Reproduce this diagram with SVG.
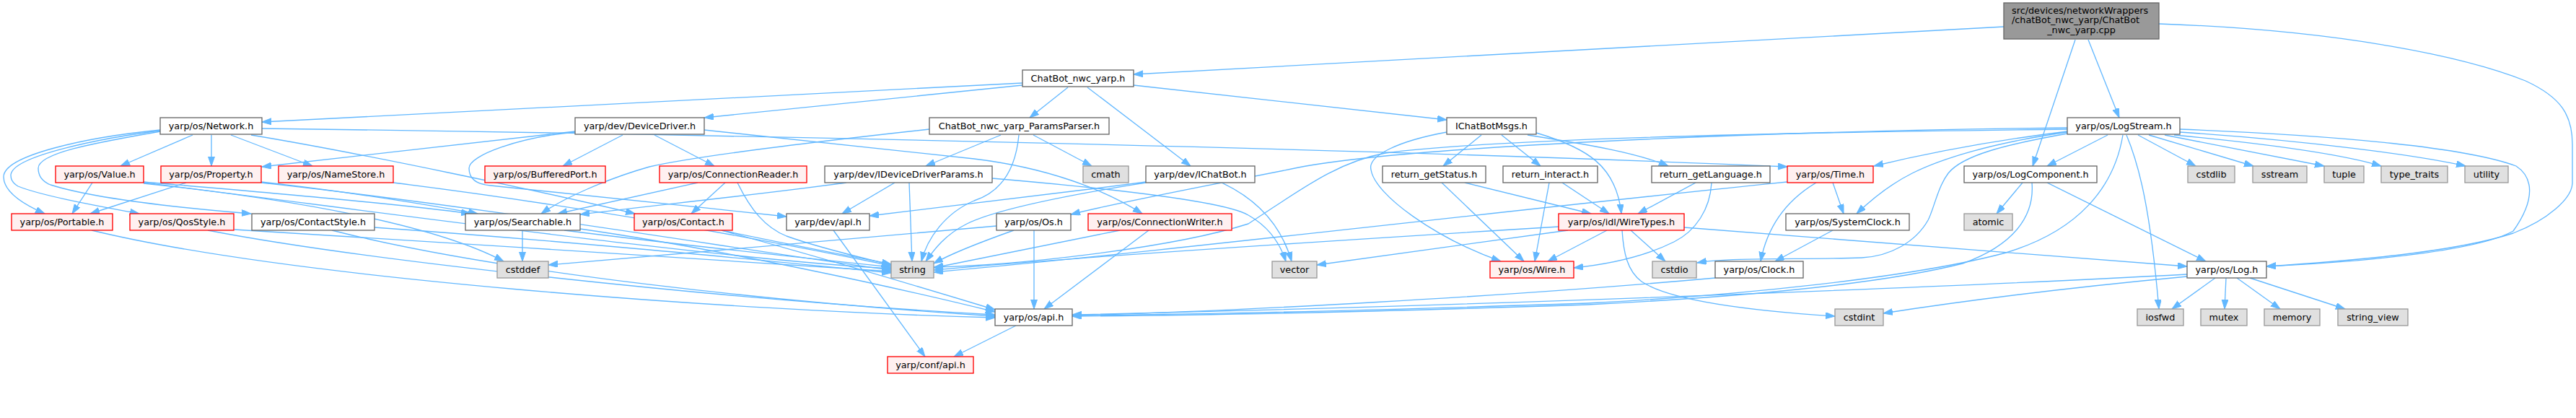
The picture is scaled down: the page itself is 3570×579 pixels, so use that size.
<svg xmlns="http://www.w3.org/2000/svg" width="3570" height="579" viewBox="0 0 3570 579">
<style>
rect{stroke-width:1.33}
.w{fill:#fff;stroke:#666}
.g{fill:#e0e0e0;stroke:#999}
.r{fill:#fff0f0;stroke:#f00}
.k{fill:#999;stroke:#666}
text{font-family:"DejaVu Sans","Liberation Sans",sans-serif;font-size:12.8px;text-anchor:middle;fill:#000}
#edges path{fill:none;stroke:#63b8ff;stroke-width:1.33;marker-end:url(#a)}
</style>
<defs><marker id="a" markerUnits="userSpaceOnUse" markerWidth="14" markerHeight="10" refX="13" refY="4.5" orient="auto"><path d="M0,0L13,4.5L0,9z" fill="#63b8ff" stroke="#63b8ff" stroke-width="1"/></marker></defs>
<rect width="3570" height="579" fill="#fff" stroke="none"/>
<g id="edges">
<path d="M2777,37L1571,103"/>
<path d="M2876,55L2817,230"/>
<path d="M2894,55L2937,163"/>
<path d="M2992,33C3250,42 3420,80 3500,112C3550,135 3565,160 3565,200L3565,253C3565,275 3530,305 3483,323C3400,350 3250,362 3141,369"/>
<path d="M1417,115L363,169"/>
<path d="M1417,118L976,163"/>
<path d="M1480,121L1427,163"/>
<path d="M1507,121L1650,230"/>
<path d="M1571,118L2005,166"/>
<path d="M267,187L167,230"/>
<path d="M293,187L293,230"/>
<path d="M320,187L433,230"/>
<path d="M363,178C1000,186 1900,206 2477,231"/>
<path d="M348,187C500,212 750,265 880,296"/>
<path d="M222,180C120,190 5,215 5,245C5,265 30,282 62,296"/>
<path d="M222,181C150,190 15,215 15,243C15,250 18,254 25,258C60,272 140,286 193,296"/>
<path d="M222,182C150,195 53,210 53,233C53,245 60,252 70,256C130,275 250,288 348,296"/>
<path d="M797,182L363,231"/>
<path d="M863,187L780,230"/>
<path d="M907,187L990,230"/>
<path d="M797,183C720,190 650,215 650,233C650,248 660,255 680,257C800,269 950,285 1090,300"/>
<path d="M976,180L1350,220C1450,232 1530,262 1583,296"/>
<path d="M1387,187L1283,230"/>
<path d="M1432,187L1513,230"/>
<path d="M1288,179C1050,205 940,222 900,231C840,248 780,275 750,296"/>
<path d="M1412,187C1408,230 1390,265 1350,278C1310,295 1285,330 1277,362"/>
<path d="M1173,253C1050,270 900,285 804,297"/>
<path d="M1240,253L1167,296"/>
<path d="M1260,253L1264,362"/>
<path d="M1375,247C1550,262 1700,280 1730,298C1760,315 1775,340 1782,362"/>
<path d="M1588,252C1450,270 1300,288 1205,299"/>
<path d="M1588,253C1450,275 1370,295 1340,310C1310,325 1295,345 1283,362"/>
<path d="M1693,253C1740,275 1775,310 1790,362"/>
<path d="M967,253L773,296"/>
<path d="M1005,253L958,296"/>
<path d="M1022,253C1040,290 1060,315 1090,327C1140,345 1200,358 1235,367"/>
<path d="M1552,319C1450,340 1350,360 1294,371"/>
<path d="M1592,319L1447,428"/>
<path d="M1433,319L1433,428"/>
<path d="M1405,319C1360,335 1320,350 1294,365"/>
<path d="M1381,313C1200,330 950,350 760,367"/>
<path d="M1000,319C1100,340 1180,355 1235,366"/>
<path d="M1000,319C1150,360 1300,405 1379,429"/>
<path d="M724,319L724,362"/>
<path d="M782,319C950,340 1120,358 1235,370"/>
<path d="M804,317C1000,345 1250,400 1379,432"/>
<path d="M128,253L100,296"/>
<path d="M199,252C350,265 550,282 652,296"/>
<path d="M199,253C500,290 1000,360 1235,372"/>
<path d="M199,254C400,275 600,310 698,362"/>
<path d="M258,253L125,296"/>
<path d="M362,252C480,265 600,285 662,296"/>
<path d="M362,253C700,290 1050,350 1235,374"/>
<path d="M545,253C800,285 1050,330 1235,368"/>
<path d="M325,318C600,335 1000,360 1235,376"/>
<path d="M288,319C500,360 1000,415 1379,436"/>
<path d="M519,315C800,335 1050,360 1235,378"/>
<path d="M460,319C700,380 1100,420 1379,438"/>
<path d="M127,319C400,385 1000,430 1379,440"/>
<path d="M2053,187L2000,230"/>
<path d="M2081,187L2135,230"/>
<path d="M2117,187C2200,200 2270,212 2312,230"/>
<path d="M2005,183C1940,195 1895,215 1900,235C1905,270 1990,330 2080,362"/>
<path d="M2129,184C2200,205 2240,230 2247,296"/>
<path d="M1998,253L2112,362"/>
<path d="M2030,253L2205,296"/>
<path d="M2147,253L2127,362"/>
<path d="M2165,253L2230,296"/>
<path d="M2350,253L2270,296"/>
<path d="M2372,253C2370,290 2350,320 2320,335C2280,355 2230,366 2181,371"/>
<path d="M2227,319L2145,362"/>
<path d="M2173,319L1825,367"/>
<path d="M2160,314C1900,330 1500,355 1294,374"/>
<path d="M2260,319L2308,362"/>
<path d="M2248,319C2250,350 2255,375 2275,390C2320,420 2450,432 2543,438"/>
<path d="M2334,315C2600,335 2850,355 3031,369"/>
<path d="M2477,252C2100,290 1600,350 1294,377"/>
<path d="M2517,253C2480,275 2450,310 2440,362"/>
<path d="M2540,253L2555,296"/>
<path d="M2540,319L2460,362"/>
<path d="M2377,385C2100,410 1700,432 1486,437"/>
<path d="M2921,187L2837,230"/>
<path d="M2865,177C2400,182 1950,205 1810,230C1700,252 1550,280 1484,297"/>
<path d="M2865,179C2400,184 2050,195 1920,212C1850,225 1800,265 1730,310C1620,345 1400,368 1294,370"/>
<path d="M2865,182C2760,195 2680,210 2597,230"/>
<path d="M2865,183C2760,198 2690,220 2650,240C2620,255 2595,275 2573,296"/>
<path d="M2865,185C2780,200 2720,215 2700,240C2685,260 2680,290 2672,305C2655,335 2620,355 2580,357C2500,360 2400,356 2352,364"/>
<path d="M2963,187L3043,230"/>
<path d="M2978,187L3123,230"/>
<path d="M3000,187L3221,230"/>
<path d="M3013,187C3150,200 3250,215 3300,230"/>
<path d="M3021,183C3200,195 3350,215 3417,230"/>
<path d="M3021,179C3250,188 3420,205 3487,230C3510,245 3515,275 3483,320C3430,350 3250,364 3141,369"/>
<path d="M2947,187C2965,230 2980,290 2992,428"/>
<path d="M2942,187C2930,260 2880,320 2780,350C2650,385 2400,410 2200,420C1900,430 1650,436 1486,437"/>
<path d="M2816,253C2820,300 2790,340 2720,365C2600,395 2400,412 2200,422C1900,432 1650,437 1486,438"/>
<path d="M2803,253L2767,296"/>
<path d="M2837,253L3057,362"/>
<path d="M3070,385L3010,428"/>
<path d="M3085,385L3083,428"/>
<path d="M3100,385L3160,428"/>
<path d="M3118,385L3250,428"/>
<path d="M3031,380C2700,398 2000,425 1486,436"/>
<path d="M3031,383C2850,400 2700,420 2610,434"/>
<path d="M1408,451L1322,494"/>
<path d="M1155,319L1282,494"/>
</g>
<g id="root"><rect class="k" x="2777" y="4" width="215" height="50"/><text x="2788" y="18.5" style="text-anchor:start">src/devices/networkWrappers</text><text x="2788" y="32" style="text-anchor:start">/chatBot_nwc_yarp/ChatBot</text><text x="2884.5" y="46">_nwc_yarp.cpp</text></g>
<g id="n_cnh"><rect class="w" x="1417" y="97" width="154" height="23"/><text x="1494" y="112.5">ChatBot_nwc_yarp.h</text></g>
<g id="n_net"><rect class="w" x="222" y="163" width="141" height="23"/><text x="292.5" y="178.5">yarp/os/Network.h</text></g>
<g id="n_dd"><rect class="w" x="797" y="163" width="179" height="23"/><text x="886.5" y="178.5">yarp/dev/DeviceDriver.h</text></g>
<g id="n_pp"><rect class="w" x="1288" y="163" width="249" height="23"/><text x="1412.5" y="178.5">ChatBot_nwc_yarp_ParamsParser.h</text></g>
<g id="n_icm"><rect class="w" x="2005" y="163" width="124" height="23"/><text x="2067" y="178.5">IChatBotMsgs.h</text></g>
<g id="n_ls"><rect class="w" x="2865" y="163" width="156" height="23"/><text x="2943" y="178.5">yarp/os/LogStream.h</text></g>
<g id="n_val"><rect class="r" x="77" y="230" width="122" height="23"/><text x="138" y="245.5">yarp/os/Value.h</text></g>
<g id="n_prop"><rect class="r" x="223" y="230" width="139" height="23"/><text x="292.5" y="245.5">yarp/os/Property.h</text></g>
<g id="n_ns"><rect class="r" x="386" y="230" width="159" height="23"/><text x="465.5" y="245.5">yarp/os/NameStore.h</text></g>
<g id="n_bp"><rect class="r" x="672" y="230" width="167" height="23"/><text x="755.5" y="245.5">yarp/os/BufferedPort.h</text></g>
<g id="n_cr"><rect class="r" x="914" y="230" width="204" height="23"/><text x="1016" y="245.5">yarp/os/ConnectionReader.h</text></g>
<g id="n_iddp"><rect class="w" x="1143" y="230" width="232" height="23"/><text x="1259" y="245.5">yarp/dev/IDeviceDriverParams.h</text></g>
<g id="n_cmath"><rect class="g" x="1501" y="230" width="63" height="23"/><text x="1532.5" y="245.5">cmath</text></g>
<g id="n_ichat"><rect class="w" x="1588" y="230" width="151" height="23"/><text x="1663.5" y="245.5">yarp/dev/IChatBot.h</text></g>
<g id="n_rgs"><rect class="w" x="1916" y="230" width="143" height="23"/><text x="1987.5" y="245.5">return_getStatus.h</text></g>
<g id="n_ri"><rect class="w" x="2083" y="230" width="131" height="23"/><text x="2148.5" y="245.5">return_interact.h</text></g>
<g id="n_rgl"><rect class="w" x="2289" y="230" width="164" height="23"/><text x="2371" y="245.5">return_getLanguage.h</text></g>
<g id="n_time"><rect class="r" x="2477" y="230" width="119" height="23"/><text x="2536.5" y="245.5">yarp/os/Time.h</text></g>
<g id="n_lc"><rect class="w" x="2722" y="230" width="184" height="23"/><text x="2814" y="245.5">yarp/os/LogComponent.h</text></g>
<g id="n_cstdlib"><rect class="g" x="3032" y="230" width="65" height="23"/><text x="3064.5" y="245.5">cstdlib</text></g>
<g id="n_sstream"><rect class="g" x="3122" y="230" width="75" height="23"/><text x="3159.5" y="245.5">sstream</text></g>
<g id="n_tuple"><rect class="g" x="3221" y="230" width="55" height="23"/><text x="3248.5" y="245.5">tuple</text></g>
<g id="n_tt"><rect class="g" x="3300" y="230" width="92" height="23"/><text x="3346" y="245.5">type_traits</text></g>
<g id="n_util"><rect class="g" x="3416" y="230" width="60" height="23"/><text x="3446" y="245.5">utility</text></g>
<g id="n_port"><rect class="r" x="16" y="296" width="140" height="23"/><text x="86" y="311.5">yarp/os/Portable.h</text></g>
<g id="n_qos"><rect class="r" x="180" y="296" width="144" height="23"/><text x="252" y="311.5">yarp/os/QosStyle.h</text></g>
<g id="n_cs"><rect class="w" x="349" y="296" width="170" height="23"/><text x="434" y="311.5">yarp/os/ContactStyle.h</text></g>
<g id="n_srch"><rect class="w" x="645" y="296" width="159" height="23"/><text x="724.5" y="311.5">yarp/os/Searchable.h</text></g>
<g id="n_contact"><rect class="r" x="879" y="296" width="136" height="23"/><text x="947" y="311.5">yarp/os/Contact.h</text></g>
<g id="n_devapi"><rect class="w" x="1090" y="296" width="115" height="23"/><text x="1147.5" y="311.5">yarp/dev/api.h</text></g>
<g id="n_os"><rect class="w" x="1381" y="296" width="103" height="23"/><text x="1432.5" y="311.5">yarp/os/Os.h</text></g>
<g id="n_cw"><rect class="r" x="1508" y="296" width="199" height="23"/><text x="1607.5" y="311.5">yarp/os/ConnectionWriter.h</text></g>
<g id="n_wt"><rect class="r" x="2160" y="296" width="174" height="23"/><text x="2247" y="311.5">yarp/os/idl/WireTypes.h</text></g>
<g id="n_sc"><rect class="w" x="2475" y="296" width="171" height="23"/><text x="2560.5" y="311.5">yarp/os/SystemClock.h</text></g>
<g id="n_atomic"><rect class="g" x="2722" y="296" width="67" height="23"/><text x="2755.5" y="311.5">atomic</text></g>
<g id="n_cstddef"><rect class="g" x="689" y="362" width="71" height="23"/><text x="724.5" y="377.5">cstddef</text></g>
<g id="n_string"><rect class="g" x="1235" y="362" width="59" height="23"/><text x="1264.5" y="377.5">string</text></g>
<g id="n_vector"><rect class="g" x="1763" y="362" width="62" height="23"/><text x="1794" y="377.5">vector</text></g>
<g id="n_wire"><rect class="r" x="2065" y="362" width="116" height="23"/><text x="2123" y="377.5">yarp/os/Wire.h</text></g>
<g id="n_cstdio"><rect class="g" x="2290" y="362" width="61" height="23"/><text x="2320.5" y="377.5">cstdio</text></g>
<g id="n_clock"><rect class="w" x="2377" y="362" width="122" height="23"/><text x="2438" y="377.5">yarp/os/Clock.h</text></g>
<g id="n_log"><rect class="w" x="3031" y="362" width="110" height="23"/><text x="3086" y="377.5">yarp/os/Log.h</text></g>
<g id="n_osapi"><rect class="w" x="1379" y="428" width="107" height="23"/><text x="1432.5" y="443.5">yarp/os/api.h</text></g>
<g id="n_cstdint"><rect class="g" x="2543" y="428" width="67" height="23"/><text x="2576.5" y="443.5">cstdint</text></g>
<g id="n_iosfwd"><rect class="g" x="2962" y="428" width="64" height="23"/><text x="2994" y="443.5">iosfwd</text></g>
<g id="n_mutex"><rect class="g" x="3050" y="428" width="64" height="23"/><text x="3082" y="443.5">mutex</text></g>
<g id="n_memory"><rect class="g" x="3138" y="428" width="77" height="23"/><text x="3176.5" y="443.5">memory</text></g>
<g id="n_sv"><rect class="g" x="3240" y="428" width="97" height="23"/><text x="3288.5" y="443.5">string_view</text></g>
<g id="n_confapi"><rect class="r" x="1230" y="494" width="119" height="23"/><text x="1289.5" y="509.5">yarp/conf/api.h</text></g>
</svg>
